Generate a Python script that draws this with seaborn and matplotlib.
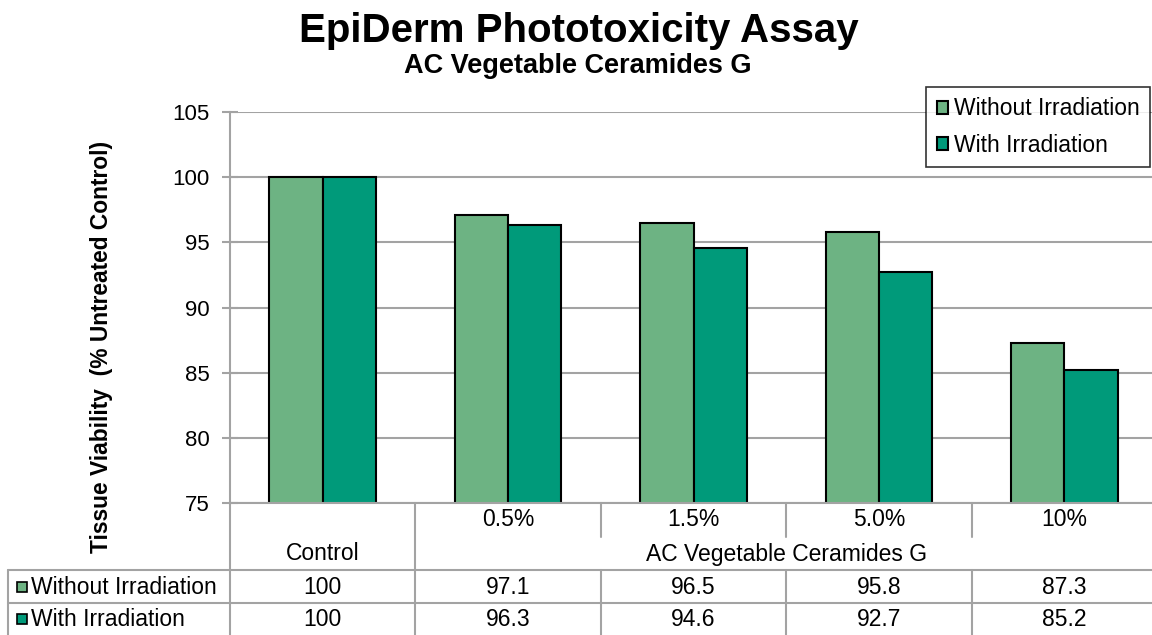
import matplotlib
matplotlib.use("Agg")
import pandas as pd
import matplotlib.pyplot as plt
import seaborn as sns
from matplotlib.lines import Line2D
from matplotlib.patches import Rectangle

# data
groups = ["Control", "0.5%", "1.5%", "5.0%", "10%"]
series = ["Without Irradiation", "With Irradiation"]
without_irr = [100, 97.1, 96.5, 95.8, 87.3]
with_irr = [100, 96.3, 94.6, 92.7, 85.2]
yticks = [75, 80, 85, 90, 95, 100, 105]
colors = ["#6db383", "#009a7a"]

df = pd.DataFrame({
    "group": groups * 2,
    "series": [series[0]] * len(groups) + [series[1]] * len(groups),
    "value": without_irr + with_irr,
})

sns.set_style("white")
plt.rcParams["font.family"] = ["Liberation Sans", "DejaVu Sans"]
plt.rcParams["text.color"] = "black"

W, H = 1152, 635
fig = plt.figure(figsize=(W / 100, H / 100), dpi=100)


def fx(px):
    return px / W


def fy(py):
    return 1 - py / H


grid_col = "#a3a3a3"
fs = 16.5

ax = fig.add_axes([fx(230), fy(503), fx(1157 - 230), fy(112) - fy(503)])
sns.barplot(data=df, x="group", y="value", hue="series", palette=colors,
            saturation=1, width=0.575, edgecolor="black", linewidth=1.5, ax=ax)
ax.set_ylim(75, 105)
ax.set_yticks(yticks)
ax.set_xlim(-0.5, len(groups) - 0.5)
ax.yaxis.grid(True, color=grid_col, linewidth=1.5)
ax.set_axisbelow(True)
for s in ["top", "right"]:
    ax.spines[s].set_visible(False)
for s in ["left", "bottom"]:
    ax.spines[s].set_color(grid_col)
    ax.spines[s].set_linewidth(1.5)
ax.set_xlabel("")
ax.set_ylabel("")
ax.set_xticklabels([])
ax.tick_params(axis="x", length=0)
ax.tick_params(axis="y", direction="inout", length=11, width=1.5, color=grid_col,
               labelcolor="black", pad=9, labelsize=16, left=True)

# legend
handles, labels = ax.get_legend_handles_labels()
ax.get_legend().remove()
leg = fig.legend(handles, labels, loc="upper right", bbox_to_anchor=(fx(1150), fy(87)),
                 fontsize=fs, frameon=True, fancybox=False, borderaxespad=0,
                 handlelength=0.5, handleheight=0.5, handletextpad=0.25,
                 labelspacing=0.6, borderpad=0.45)
leg.get_frame().set_edgecolor("black")
leg.get_frame().set_linewidth(1.2)
for t in leg.get_texts():
    t.set_color("black")

# titles
fig.text(fx(579), fy(31), "EpiDerm Phototoxicity Assay", ha="center", va="center",
         fontsize=29, fontweight="bold")
fig.text(fx(578), fy(66), "AC Vegetable Ceramides G", ha="center", va="center",
         fontsize=19.5, fontweight="bold")
fig.text(fx(102), fy(347), "Tissue Viability  (% Untreated Control)", ha="center", va="center",
         rotation=90, fontsize=16.4, fontweight="bold")

# data table below the axis
to_fig = fig.transFigure.inverted()


def data_x(v):
    return to_fig.transform(ax.transData.transform((v, 75)))[0]


def hline(y, x0, x1):
    fig.add_artist(Line2D([x0, x1], [fy(y), fy(y)], color=grid_col, lw=1.5))


def vline(x, y0, y1):
    fig.add_artist(Line2D([x, x], [fy(y0), fy(y1)], color=grid_col, lw=1.5))


left_x = fx(8)
right_x = data_x(len(groups) - 0.5)
rows_y = [520, 554, 587, 619]

vline(data_x(-0.5), 503, 635)
vline(data_x(0.5), 503, 635)
for i in range(1, len(groups) - 1):
    vline(data_x(i + 0.5), 503, 537)
    vline(data_x(i + 0.5), 570, 635)
hline(570, left_x, right_x)
hline(603, left_x, right_x)
vline(left_x, 570, 635)

for i, g in enumerate(groups[1:], start=1):
    fig.text(data_x(i), fy(rows_y[0]), g, ha="center", va="center", fontsize=fs)
fig.text(data_x(0), fy(rows_y[1]), groups[0], ha="center", va="center", fontsize=fs)
fig.text((data_x(0.5) + right_x) / 2, fy(rows_y[1]), "AC Vegetable Ceramides G",
         ha="center", va="center", fontsize=fs)

for r, (name, vals, col) in enumerate(zip(series, [without_irr, with_irr], colors)):
    y = rows_y[2 + r]
    fig.add_artist(Rectangle((fx(17), fy(y + 5)), fx(10), fy(y - 5) - fy(y + 5),
                             facecolor=col, edgecolor="black", lw=1.2, transform=fig.transFigure))
    fig.text(fx(31), fy(y), name, ha="left", va="center", fontsize=fs)
    for i, v in enumerate(vals):
        fig.text(data_x(i), fy(y), f"{v:g}", ha="center", va="center", fontsize=fs)

fig.savefig("out.png", dpi=100)
